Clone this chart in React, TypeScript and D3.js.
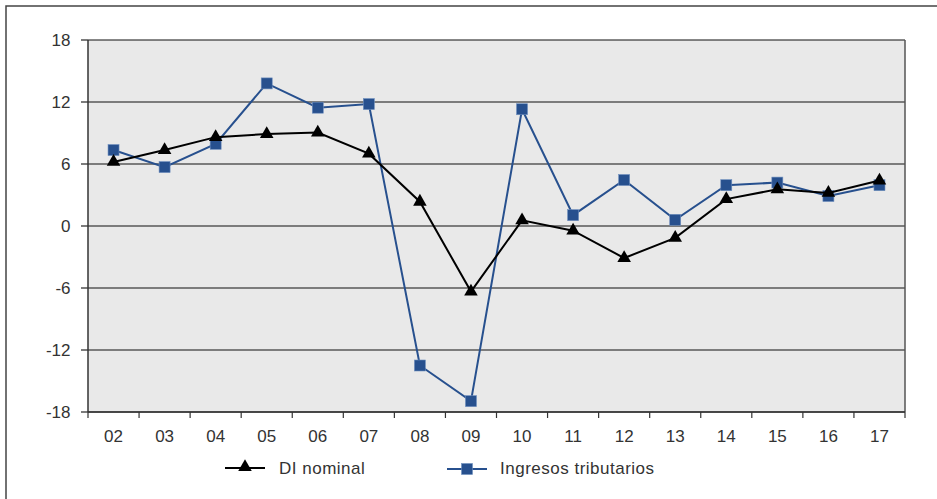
import React from "react";
import * as d3 from "d3";

// Year labels (two-digit) and the two series, % change
const years = ["02", "03", "04", "05", "06", "07", "08", "09", "10", "11", "12", "13", "14", "15", "16", "17"];
const diNominal = [6.2, 7.35, 8.6, 8.9, 9.05, 7.0, 2.35, -6.35, 0.55, -0.45, -3.1, -1.15, 2.6, 3.55, 3.2, 4.4];
const ingresosTributarios = [7.35, 5.7, 7.95, 13.8, 11.45, 11.8, -13.5, -16.95, 11.3, 1.05, 4.45, 0.6, 3.95, 4.2, 2.9, 3.95];
const yTicks = [-18, -12, -6, 0, 6, 12, 18];

const W = 937;
const H = 499;
const M = { left: 88, right: 905, top: 40, bottom: 412 };
const BLUE = "#27508e";
const FONT = "'Liberation Sans', Arial, sans-serif";

export default function App() {
  const x = d3.scaleBand<string>().domain(years).range([M.left, M.right]).padding(0);
  const y = d3.scaleLinear().domain([-18, 18]).range([M.bottom, M.top]);
  const cx = (d: string) => (x(d) ?? 0) + x.bandwidth() / 2;

  const line = d3
    .line<number>()
    .x((_, i) => cx(years[i]))
    .y((v) => y(v));

  const tri = d3.symbol().type(d3.symbolTriangle).size(80)() as string;
  const boundaries = years.map((d) => x(d) as number).concat([M.right]);

  return (
    <svg width={W} height={H} style={{ position: "absolute", left: 0, top: 0, fontFamily: FONT }}>
      <rect x={0} y={0} width={W} height={H} fill="#fff" />
      {/* outer frame */}
      <rect x={6} y={6} width={W + 10} height={H + 10} fill="none" stroke="#444" strokeWidth={1.5} />

      {/* plot background */}
      <rect x={M.left} y={M.top} width={M.right - M.left} height={M.bottom - M.top} fill="#e9e9e9" />

      {/* horizontal gridlines + y ticks */}
      {yTicks.map((t) => (
        <g key={t}>
          <line x1={M.left} x2={M.right} y1={y(t)} y2={y(t)} stroke="#111" strokeWidth={1.1} />
          <line x1={81} x2={M.left} y1={y(t)} y2={y(t)} stroke="#111" strokeWidth={1.1} />
          <text x={70.5} y={y(t) + 6} textAnchor="end" fontSize={17} fill="#333">
            {t}
          </text>
        </g>
      ))}

      {/* axes frame */}
      <line x1={M.left} x2={M.left} y1={M.top} y2={M.bottom} stroke="#333" strokeWidth={1.5} />
      <line x1={M.right} x2={M.right} y1={M.top} y2={M.bottom} stroke="#555" strokeWidth={1.5} />
      <line x1={M.left} x2={M.right} y1={M.bottom} y2={M.bottom} stroke="#333" strokeWidth={1.5} />

      {/* x ticks at category boundaries */}
      {boundaries.map((b, i) => (
        <line key={i} x1={b} x2={b} y1={M.bottom} y2={M.bottom + 6} stroke="#333" strokeWidth={1.2} />
      ))}
      {years.map((d) => (
        <text key={d} x={cx(d)} y={442} textAnchor="middle" fontSize={17} fill="#333">
          {d}
        </text>
      ))}

      {/* Ingresos tributarios */}
      <path d={line(ingresosTributarios) ?? ""} fill="none" stroke={BLUE} strokeWidth={2} />
      {ingresosTributarios.map((v, i) => (
        <rect key={i} x={cx(years[i]) - 5.5} y={y(v) - 5.5} width={11} height={11} fill={BLUE} stroke="#6f8fbf" strokeWidth={0.6} />
      ))}

      {/* DI nominal */}
      <path d={line(diNominal) ?? ""} fill="none" stroke="#000" strokeWidth={2} />
      {diNominal.map((v, i) => (
        <path key={i} d={tri} transform={`translate(${cx(years[i])},${y(v)})`} fill="#000" />
      ))}

      {/* legend */}
      <line x1={225} x2={265} y1={468} y2={468} stroke="#000" strokeWidth={2} />
      <path d={tri} transform="translate(245,467)" fill="#000" />
      <text x={279} y={474} fontSize={17} letterSpacing={0.5} fill="#333">DI nominal</text>

      <line x1={447} x2={487} y1={469} y2={469} stroke={BLUE} strokeWidth={2} />
      <rect x={461.5} y={463.5} width={11} height={11} fill={BLUE} stroke="#6f8fbf" strokeWidth={0.6} />
      <text x={500} y={474} fontSize={17} letterSpacing={0.5} fill="#333">Ingresos tributarios</text>
    </svg>
  );
}
